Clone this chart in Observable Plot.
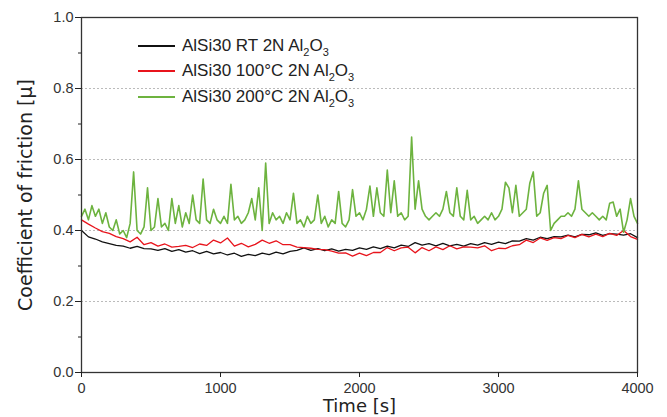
<!DOCTYPE html>
<html>
<head>
<meta charset="utf-8">
<script src="https://cdn.jsdelivr.net/npm/d3@7"></script>
<script src="https://cdn.jsdelivr.net/npm/@observablehq/plot@0.6"></script>
<style>
  body { margin: 0; background: #fff; }
  #chart { position: relative; width: 667px; height: 417px; }
  .legend { position: absolute; left: 138px; top: 33px; font-family: "Liberation Sans", Arial, sans-serif;
            font-size: 17px; color: #222; }
  .legend .row { display: flex; align-items: center; height: 25.5px; white-space: nowrap; }
  .legend .sw { width: 37px; height: 0; border-top: 2px solid; margin-right: 7px; }
  .legend sub { font-size: 11px; vertical-align: -5px; line-height: 0; }
</style>
</head>
<body>
<div id="chart"></div>
<script>
// Coefficient of friction of AlSi30 against Al2O3 at 2 N, sampled every 25 s (200 °C) and 50 s (RT, 100 °C)
const seriesNames = ["AlSi30 RT 2N Al2O3", "AlSi30 100°C 2N Al2O3", "AlSi30 200°C 2N Al2O3"];
const seriesColors = ["#111111", "#e8141c", "#6db33f"];

const stepRT = 50;
const cofRT = [
  0.40, 0.382, 0.376, 0.368, 0.363, 0.358, 0.356, 0.35, 0.355, 0.349,
  0.348, 0.344, 0.349, 0.341, 0.346, 0.339, 0.343, 0.335, 0.341, 0.334,
  0.338, 0.331, 0.336, 0.327, 0.333, 0.329, 0.336, 0.332, 0.339, 0.334,
  0.341, 0.344, 0.351, 0.344, 0.349, 0.343, 0.348, 0.342, 0.347, 0.344,
  0.351, 0.347, 0.354, 0.349, 0.356, 0.351, 0.359, 0.355, 0.366, 0.359,
  0.363, 0.357, 0.364, 0.357, 0.361, 0.356, 0.363, 0.359, 0.366, 0.361,
  0.367, 0.363, 0.371, 0.37, 0.377, 0.373, 0.381, 0.377, 0.383, 0.382,
  0.387, 0.382, 0.389, 0.388, 0.393, 0.386, 0.391, 0.39, 0.387, 0.391,
  0.38
];

const step100 = 50;
const cof100 = [
  0.43, 0.418, 0.407, 0.397, 0.392, 0.383, 0.377, 0.368, 0.381, 0.36,
  0.366, 0.356, 0.362, 0.353, 0.355, 0.358, 0.352, 0.362, 0.358, 0.373,
  0.365, 0.379, 0.356, 0.364, 0.354, 0.361, 0.373, 0.364, 0.371, 0.36,
  0.36, 0.353, 0.352, 0.35, 0.347, 0.346, 0.342, 0.336, 0.337, 0.328,
  0.336, 0.329, 0.338, 0.338, 0.352, 0.343, 0.351, 0.353, 0.337, 0.352,
  0.343, 0.354, 0.346, 0.357, 0.348, 0.354, 0.353, 0.351, 0.357, 0.343,
  0.35, 0.349, 0.357, 0.36, 0.373, 0.366, 0.379, 0.372, 0.38, 0.377,
  0.386, 0.38, 0.389, 0.382, 0.39, 0.383, 0.392, 0.386, 0.40, 0.383,
  0.375
];

const step200 = 25;
const cof200 = [
  0.44, 0.46, 0.43, 0.47, 0.44, 0.46, 0.42, 0.45,
  0.41, 0.40, 0.43, 0.39, 0.40, 0.38, 0.42, 0.565,
  0.40, 0.39, 0.41, 0.52, 0.40, 0.41, 0.49, 0.41,
  0.42, 0.40, 0.49, 0.42, 0.47, 0.41, 0.45, 0.42,
  0.50, 0.43, 0.42, 0.545, 0.43, 0.42, 0.46, 0.43,
  0.42, 0.44, 0.42, 0.53, 0.43, 0.44, 0.42, 0.43,
  0.45, 0.49, 0.43, 0.52, 0.40, 0.59, 0.42, 0.45,
  0.43, 0.44, 0.42, 0.45, 0.43, 0.505, 0.42, 0.43,
  0.41, 0.44, 0.42, 0.43, 0.50, 0.42, 0.44, 0.41,
  0.43, 0.42, 0.51, 0.42, 0.41, 0.43, 0.515, 0.44,
  0.45, 0.43, 0.46, 0.525, 0.44, 0.52, 0.45, 0.44,
  0.57, 0.45, 0.54, 0.44, 0.45, 0.43, 0.44, 0.663,
  0.46, 0.54, 0.46, 0.44, 0.43, 0.44, 0.45, 0.44,
  0.46, 0.51, 0.45, 0.44, 0.52, 0.44, 0.43, 0.513,
  0.43, 0.44, 0.42, 0.43, 0.44, 0.43, 0.45, 0.43,
  0.44, 0.46, 0.536, 0.52, 0.45, 0.527, 0.44, 0.45,
  0.46, 0.533, 0.565, 0.44, 0.45, 0.505, 0.527, 0.40,
  0.42, 0.43, 0.44, 0.44, 0.45, 0.44, 0.46, 0.54,
  0.46, 0.45, 0.44, 0.45, 0.44, 0.43, 0.44, 0.43,
  0.477, 0.48, 0.44, 0.46, 0.395, 0.43, 0.49, 0.44,
  0.42
];

const xTicks = [0, 1000, 2000, 3000, 4000];
const yTicks = [0, 0.2, 0.4, 0.6, 0.8, 1.0];
const yMinorTicks = [0.1, 0.3, 0.5, 0.7, 0.9];
const yGrid = [0.2, 0.4, 0.6, 0.8];

const toRows = (values, step) => values.map((cof, i) => ({ time: i * step, cof }));
const dataRT = toRows(cofRT, stepRT);
const data100 = toRows(cof100, step100);
const data200 = toRows(cof200, step200);

const chart = Plot.plot({
  width: 667,
  height: 417,
  marginLeft: 81,
  marginRight: 30,
  marginTop: 17,
  marginBottom: 45,
  x: { domain: [0, 4000] },
  y: { domain: [0, 1] },
  style: { fontFamily: "Liberation Sans, Arial, sans-serif", fontSize: "14.5px", color: "#333", background: "#fff" },
  marks: [
    Plot.gridY(yGrid, { stroke: "#bbbbbb", strokeOpacity: 1, strokeDasharray: "2,2" }),
    Plot.line(dataRT, { x: "time", y: "cof", stroke: seriesColors[0], strokeWidth: 1.3 }),
    Plot.line(data100, { x: "time", y: "cof", stroke: seriesColors[1], strokeWidth: 1.3 }),
    Plot.line(data200, { x: "time", y: "cof", stroke: seriesColors[2], strokeWidth: 1.6 }),
    Plot.frame({ stroke: "#333", strokeWidth: 1.3 }),
    Plot.axisY(yTicks, { tickSize: 6, tickPadding: 2, tickFormat: d3.format(".1f"), label: null, stroke: "#222" }),
    Plot.axisY(yMinorTicks, { tickSize: 3, tickFormat: () => "", label: null, stroke: "#222" }),
    Plot.axisX(xTicks, { tickSize: 5, tickPadding: 5, tickFormat: d => String(d), label: null, stroke: "#222" }),
    Plot.text(["Coefficient of friction [μ]"], {
      frameAnchor: "left", dx: -56, rotate: -90, textAnchor: "middle", lineAnchor: "middle",
      fontSize: 19, fill: "#222", fontFamily: "DejaVu Sans, sans-serif", letterSpacing: "1px"
    }),
    Plot.text(["Time [s]"], {
      frameAnchor: "bottom", dy: 34, textAnchor: "middle", lineAnchor: "middle",
      fontSize: 18, fill: "#222", fontFamily: "DejaVu Sans, sans-serif", letterSpacing: "0.4px"
    })
  ]
});

const root = document.getElementById("chart");
root.appendChild(chart);

// Legend drawn over the plot area
const legend = document.createElement("div");
legend.className = "legend";
const subLabel = name => name.replace("Al2O3", "Al<sub>2</sub>O<sub>3</sub>");
legend.innerHTML = seriesNames.map((name, i) =>
  `<div class="row"><span class="sw" style="border-color:${seriesColors[i]}"></span><span>${subLabel(name)}</span></div>`
).join("");
root.appendChild(legend);
</script>
</body>
</html>
